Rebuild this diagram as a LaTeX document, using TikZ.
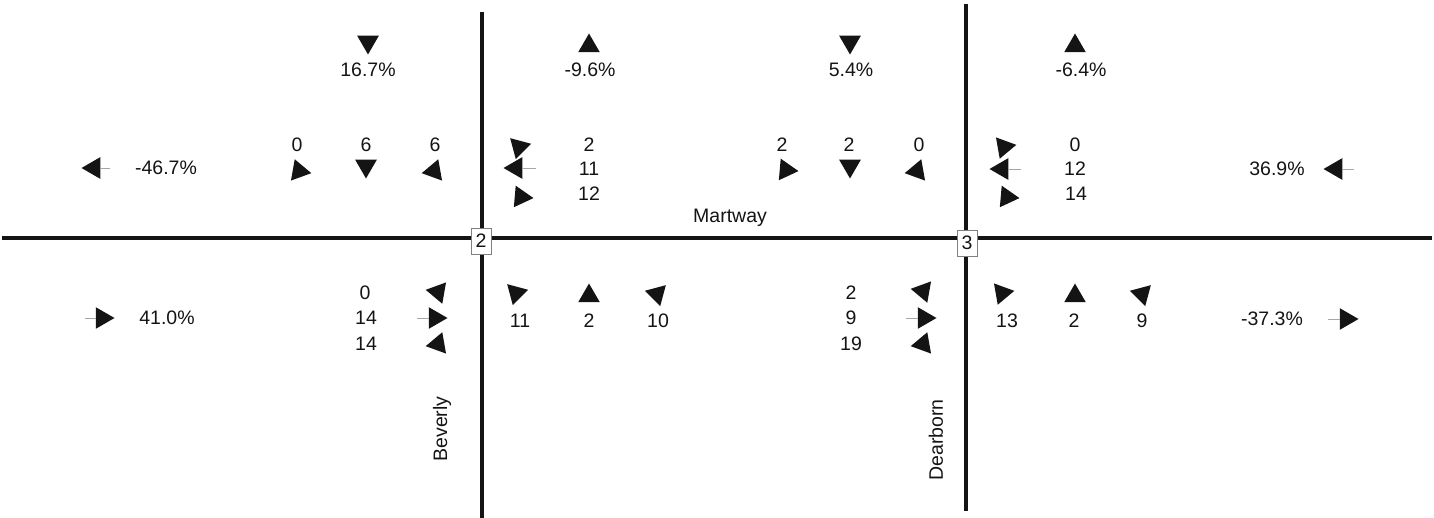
\documentclass[tikz,border=0pt]{standalone}
\usepackage{fontspec}
\setmainfont{Liberation Sans}
\usetikzlibrary{shapes.geometric}
\definecolor{ink}{HTML}{141414}
\tikzset{
  tri/.style={regular polygon, regular polygon sides=3, fill=ink, draw=none, inner sep=0pt, minimum size=25pt},
  num/.style={font=\fontsize{19.5}{19.5}\selectfont, text=ink, inner sep=0pt},
  tailline/.style={draw=gray!70, line width=0.9pt},
  road/.style={draw=ink, line width=3.2pt},
  ibox/.style={draw=gray, fill=white, line width=0.8pt, minimum width=20pt, minimum height=26pt, inner sep=0pt, font=\fontsize{19.5}{19.5}\selectfont, text=ink},
}
\begin{document}
\begin{tikzpicture}[x=1pt,y=-1pt]
\useasboundingbox (0,0) rectangle (1434,518);
% roads
\coordinate (mw) at (2,238);
\coordinate (me) at (1432,238);
\coordinate (bn) at (482,12);
\coordinate (bs) at (482,518);
\coordinate (dn) at (966,4);
\coordinate (ds) at (966,511);
\draw[road] (mw) -- (me);
\draw[road] (bn) -- (bs);
\draw[road] (dn) -- (ds);
\node[ibox] (i2) at (481,241) {2};
\node[ibox] (i3) at (967,243) {3};
\node[num] (martway) at (730,218) {Martway};
\node[num, rotate=90] (beverly) at (442,429) {Beverly};
\node[num, rotate=90] (dearborn) at (936,440) {Dearborn};

% top percentages
\node[tri, rotate=180] (p1) at (368,42) {};
\node[num] (p1t) at (368,70) {16.7\%};
\node[tri] (p2) at (589,46) {};
\node[num] (p2t) at (590,70) {-9.6\%};
\node[tri, rotate=180] (p3) at (850,42) {};
\node[num] (p3t) at (851,70) {5.4\%};
\node[tri] (p4) at (1075,46) {};
\node[num] (p4t) at (1081,70) {-6.4\%};

% far left top
\node[tri, rotate=90] (lw) at (94,168) {};
\coordinate (lwt) at (110,168);
\draw[tailline] (lw) -- (lwt);
\node[num] (lwn) at (166,168) {-46.7\%};

% group A: north approach, intersection 2
\node[num] (a1) at (297,145) {0};
\node[num] (a2) at (366,145) {6};
\node[num] (a3) at (435,145) {6};
\node[tri, rotate=-100] (a1t) at (299,171) {};
\node[tri, rotate=180] (a2t) at (366,166) {};
\node[tri, rotate=100] (a3t) at (434,171) {};

% group B: east leg top, intersection 2
\node[tri, rotate=-75] (b1t) at (519,147) {};
\node[tri, rotate=90] (b2t) at (516,168) {};
\coordinate (b2e) at (536,168);
\draw[tailline] (b2t) -- (b2e);
\node[tri, rotate=-95] (b3t) at (521,197) {};
\node[num] (b1) at (589,145) {2};
\node[num] (b2) at (589,169) {11};
\node[num] (b3) at (589,194) {12};

% group C: north approach, intersection 3
\node[num] (c1) at (782,145) {2};
\node[num] (c2) at (849,145) {2};
\node[num] (c3) at (919,145) {0};
\node[tri, rotate=-95] (c1t) at (786,170) {};
\node[tri, rotate=180] (c2t) at (850,166) {};
\node[tri, rotate=100] (c3t) at (917,171) {};

% group D: east leg top, intersection 3
\node[tri, rotate=-80] (d1t) at (1004,147) {};
\node[tri, rotate=90] (d2t) at (1002,169) {};
\coordinate (d2e) at (1021,169);
\draw[tailline] (d2t) -- (d2e);
\node[tri, rotate=-95] (d3t) at (1007,197) {};
\node[num] (d1) at (1075,145) {0};
\node[num] (d2) at (1075,169) {12};
\node[num] (d3) at (1076,194) {14};

% far right top
\node[num] (rwn) at (1277,169) {36.9\%};
\node[tri, rotate=90] (rw) at (1336,169) {};
\coordinate (rwt) at (1354,169);
\draw[tailline] (rw) -- (rwt);

% far left bottom
\coordinate (lef) at (85,318);
\node[tri, rotate=-90] (le) at (102,318) {};
\draw[tailline] (lef) -- (le);
\node[num] (len) at (167,318) {41.0\%};

% group E: west approach, intersection 2
\node[num] (e1) at (365,293) {0};
\node[num] (e2) at (366,318) {14};
\node[num] (e3) at (366,344) {14};
\node[tri, rotate=80] (e1t) at (438,292) {};
\node[tri, rotate=-90] (e2t) at (435,318) {};
\coordinate (e2f) at (417,318);
\draw[tailline] (e2f) -- (e2t);
\node[tri, rotate=100] (e3t) at (438,344) {};

% group F: south approach, intersection 2
\node[tri, rotate=-75] (f1t) at (516,293) {};
\node[tri] (f2t) at (589,296) {};
\node[tri, rotate=75] (f3t) at (657,294) {};
\node[num] (f1) at (520,321) {11};
\node[num] (f2) at (589,321) {2};
\node[num] (f3) at (658,321) {10};

% group G: west approach, intersection 3
\node[num] (g1) at (851,293) {2};
\node[num] (g2) at (851,318) {9};
\node[num] (g3) at (851,344) {19};
\node[tri, rotate=80] (g1t) at (923,291) {};
\node[tri, rotate=-90] (g2t) at (924,318) {};
\coordinate (g2f) at (906,318);
\draw[tailline] (g2f) -- (g2t);
\node[tri, rotate=100] (g3t) at (923,344) {};

% group H: south approach, intersection 3
\node[tri, rotate=-80] (h1t) at (1002,293) {};
\node[tri] (h2t) at (1075,296) {};
\node[tri, rotate=75] (h3t) at (1142,294) {};
\node[num] (h1) at (1007,321) {13};
\node[num] (h2) at (1074,321) {2};
\node[num] (h3) at (1142,321) {9};

% far right bottom
\node[num] (ren) at (1272,319) {-37.3\%};
\coordinate (ref) at (1328,319);
\node[tri, rotate=-90] (re) at (1346,319) {};
\draw[tailline] (ref) -- (re);
\end{tikzpicture}
\end{document}
